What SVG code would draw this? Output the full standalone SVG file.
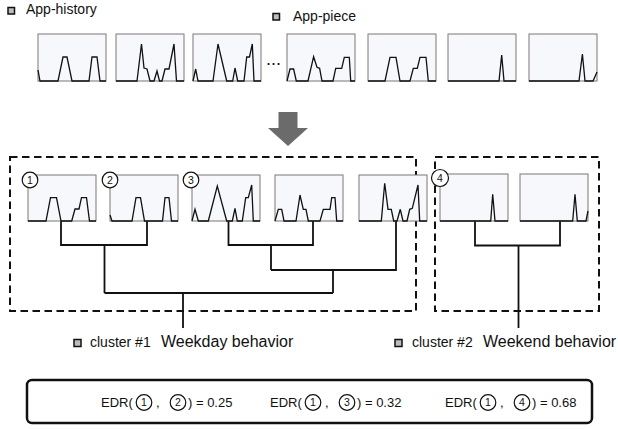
<svg xmlns="http://www.w3.org/2000/svg" width="618" height="429" viewBox="0 0 618 429">
<style>
text{font-family:"Liberation Sans",Arial,sans-serif;fill:#111}
.box{fill:#f7f8fb;stroke:#7f7676;stroke-width:1}
.spark{fill:none;stroke:#111;stroke-width:1.3;stroke-linejoin:miter}
.lg{fill:#bdbdbd;stroke:#111;stroke-width:1.5}
.sm{font-size:14px}
.big{font-size:16px}
.edr{font-size:13px}
.dash{fill:none;stroke:#111;stroke-width:2;stroke-dasharray:7.5 4.5}
.ln{fill:none;stroke:#111;stroke-width:1.8}
.num{fill:#fff;stroke:#111;stroke-width:1.2}
.nt{font-size:10.5px;text-anchor:middle}
</style>

<g id="legend-history">
<rect class="lg" x="8" y="7.5" width="6.5" height="6.5"/>
<text class="sm" x="26" y="14">App-history</text>
</g>
<g id="legend-piece">
<rect class="lg" x="273" y="13.5" width="6.5" height="6.5"/>
<text class="sm" x="293" y="21">App-piece</text>
</g>

<g id="piece-1" transform="translate(38,34)"><rect class="box" width="68" height="47"/><path class="spark" d="M0,36 L2,47 L20,47 L25,23 L29,23 L34,47 L51,47 L54,23 L59,23 L62,47 L68,47"/></g>
<g id="piece-2" transform="translate(116,34)"><rect class="box" width="68" height="47"/><path class="spark" d="M0,47 L21,47 L25.5,10 L28,34 L31,35 L34,47 L38,47 L41,37 L43.5,47 L46,47 L49,35 L53,35 L58,10 L60.5,47 L68,47"/></g>
<g id="piece-3" transform="translate(193,34)"><rect class="box" width="68" height="47"/><path class="spark" d="M0,47 L2.7,35 L5,47 L20,47 L25,10 L33.7,47 L39.7,47 L42,34 L44.7,47 L51,47 L53.7,23 L56.5,23 L59.3,10 L61,47 L68,47"/></g>
<text id="ellipsis" x="266" y="65" style="font-size:18px">...</text>
<g id="piece-4" transform="translate(287,34)"><rect class="box" width="68" height="47"/><path class="spark" d="M0,47 L3,35 L6.6,35 L9.3,47 L21,47 L26.6,22.7 L30,33.3 L32.6,34.3 L35,47 L46,47 L48.7,34.3 L54.7,34.3 L57.3,23.3 L62.3,23.3 L63.7,47 L68,47"/></g>
<g id="piece-5" transform="translate(368,34)"><rect class="box" width="68" height="47"/><path class="spark" d="M0,47 L17,47 L22,23.3 L28,23.3 L32,47 L42,47 L45.3,34.3 L49.3,34.3 L52,23.3 L58,23.3 L60.3,47 L68,47"/></g>
<g id="piece-6" transform="translate(448,34)"><rect class="box" width="68" height="47"/><path class="spark" d="M0,47 L51,47 L53.7,21 L56,47 L68,47"/></g>
<g id="piece-7" transform="translate(529,34)"><rect class="box" width="68" height="47"/><path class="spark" d="M0,47 L50,47 L53.4,20 L56,47 L64,47 L68,38"/></g>

<g id="arrow"><polygon points="278.5,112 297.5,112 297.5,128 308,128 288,146 268,128 278.5,128" fill="#6b6b6b"/></g>

<g id="cluster-1-frame"><rect class="dash" x="10" y="157" width="406" height="154"/></g>
<g id="cluster-2-frame"><rect class="dash" x="435" y="157" width="164" height="154"/></g>

<g id="connectors">
<path class="ln" d="M61,221 V245 H147 V221 M104.5,245 V293"/>
<path class="ln" d="M228.5,221 V245 H313 V221 M271,245 V270"/>
<path class="ln" d="M396,221 V270 H271 M333,270 V293"/>
<path class="ln" d="M104.5,293 H333 M183,293 V328"/>
<path class="ln" d="M475,221 V245.5 H560 V221 M518.5,245.5 V328"/>
</g>

<g id="day-1" transform="translate(28,175)"><rect class="box" width="68" height="46"/><path class="spark" d="M0,46 L18,46 L22.5,22.7 L28.5,22.7 L33,46 L43.7,46 L47,34 L51,34 L53.5,22.7 L58.5,22.7 L61.5,46 L68,46"/><circle class="num" cx="2" cy="5" r="7.8"/><text class="nt" x="2" y="8.7">1</text></g>
<g id="day-2" transform="translate(110,175)"><rect class="box" width="68" height="46"/><path class="spark" d="M0,40 L2,46 L22,46 L26,22.7 L30.5,22.7 L34.5,46 L52.5,46 L55,22.7 L59,22.7 L61.5,46 L68,46"/><circle class="num" cx="0" cy="5" r="7.8"/><text class="nt" x="0" y="8.7">2</text></g>
<g id="day-3" transform="translate(192,175)"><rect class="box" width="68" height="46"/><path class="spark" d="M0,46 L3,34.3 L6.3,46 L16.3,46 L25.3,11 L34.7,46 L40.3,46 L43,33.3 L45.3,46 L50.3,46 L53.7,22.7 L56.3,22.7 L59.7,10 L61.3,46 L68,46"/><circle class="num" cx="-1" cy="5" r="7.8"/><text class="nt" x="-1" y="8.7">3</text></g>
<g id="day-4" transform="translate(275,175)"><rect class="box" width="68" height="46"/><path class="spark" d="M0,46 L3.3,34.3 L6.7,34.3 L9,46 L21,46 L25,20 L28.3,34.3 L31,34.3 L33.3,46 L45,46 L48.3,34.3 L55,34.3 L56.7,22.7 L60,22.7 L61.7,46 L68,46"/></g>
<g id="day-5" transform="translate(359,175)"><rect class="box" width="68" height="46"/><path class="spark" d="M0,46 L22.3,46 L25.7,8.3 L29,34.3 L32.3,34.3 L34.7,46 L38,46 L41.3,34.3 L44,46 L48,46 L50.7,34.3 L53.3,33.3 L59,10 L60.7,46 L68,46"/></g>

<g id="end-1" transform="translate(440,174)"><rect class="box" width="68" height="47"/><path class="spark" d="M0,47 L50.7,47 L52.7,20.3 L55,47 L68,47"/><circle class="num" cx="0" cy="4" r="8.5"/><text class="nt" x="0" y="7.7">4</text></g>
<g id="end-2" transform="translate(520,174)"><rect class="box" width="68" height="47"/><path class="spark" d="M0,47 L52.7,47 L55,20.3 L57.3,47 L66,47 L68,37"/></g>

<g id="label-cluster-1">
<rect class="lg" x="74" y="339.5" width="7" height="7"/>
<text x="90" y="347"><tspan class="sm">cluster #1</tspan><tspan class="big" x="161">Weekday behavior</tspan></text>
</g>
<g id="label-cluster-2">
<rect class="lg" x="395" y="339.5" width="7" height="7"/>
<text x="412" y="347"><tspan class="sm">cluster #2</tspan><tspan class="big" x="483">Weekend behavior</tspan></text>
</g>

<g id="edr-box">
<rect x="27" y="380" width="565" height="43" rx="5" fill="#fff" stroke="#111" stroke-width="2.5"/>
<g id="edr-1">
<text class="edr" x="101" y="407">EDR(</text>
<circle class="num" cx="144" cy="402.5" r="7.8" stroke-width="1"/><text class="nt" x="144" y="406">1</text>
<text class="edr" x="156" y="407">,</text>
<circle class="num" cx="178" cy="402.5" r="7.8" stroke-width="1"/><text class="nt" x="178" y="406">2</text>
<text class="edr" x="188" y="407">) = 0.25</text>
</g>
<g id="edr-2">
<text class="edr" x="270" y="407">EDR(</text>
<circle class="num" cx="313" cy="402.5" r="7.8" stroke-width="1"/><text class="nt" x="313" y="406">1</text>
<text class="edr" x="325" y="407">,</text>
<circle class="num" cx="347" cy="402.5" r="7.8" stroke-width="1"/><text class="nt" x="347" y="406">3</text>
<text class="edr" x="357" y="407">) = 0.32</text>
</g>
<g id="edr-3">
<text class="edr" x="445" y="407">EDR(</text>
<circle class="num" cx="488" cy="402.5" r="7.8" stroke-width="1"/><text class="nt" x="488" y="406">1</text>
<text class="edr" x="500" y="407">,</text>
<circle class="num" cx="522" cy="402.5" r="7.8" stroke-width="1"/><text class="nt" x="522" y="406">4</text>
<text class="edr" x="532" y="407">) = 0.68</text>
</g>
</g>
</svg>
